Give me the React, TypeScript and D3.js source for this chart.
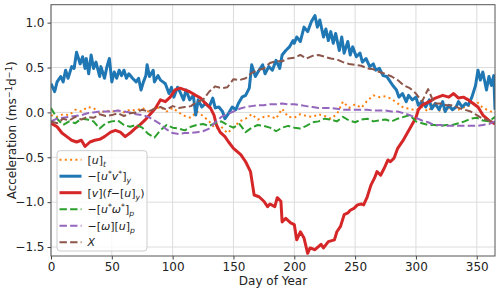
import React, { useEffect, useRef } from 'react';
import * as d3 from 'd3';

// shared 5-day sampling for the smoother terms
const days = [
  0, 5, 10, 15, 20, 25, 30, 35, 40, 45, 50, 55, 60, 65, 70, 75, 80, 85, 90, 95,
  100, 105, 110, 115, 120, 125, 130, 135, 140, 145, 150, 155, 160, 165, 170, 175,
  180, 185, 190, 195, 200, 205, 210, 215, 220, 225, 230, 235, 240, 245, 250, 255,
  260, 265, 270, 275, 280, 285, 290, 295, 300, 305, 310, 315, 320, 325, 330, 335,
  340, 345, 350, 355, 360, 365
];

// [u]_t
const tendency = [
  -0.03, -0.05, -0.02, -0.03, 0.03, 0.01, 0.06, 0.05, -0.01, 0.02, 0.01, 0.02, 0.0, 0.03, 0.02, 0.05, 0.01, 0.04, 0.06, 0.01,
  0.05, 0.0, -0.04, -0.06, 0.01, -0.04, -0.1, -0.18, -0.16, -0.23, -0.17, -0.1, -0.07, -0.02, -0.08, -0.05,
  -0.04, -0.07, 0.04, -0.05, -0.06, -0.02, -0.04, -0.05, -0.02, -0.04, -0.07, -0.02, 0.12, 0.05, 0.09, 0.05,
  0.13, 0.19, 0.17, 0.18, 0.15, 0.1, 0.05, 0.04, 0.02, 0.06, 0.01, 0.1, 0.01, 0.05, 0.04, 0.03,
  0.06, 0.08, 0.12, 0.05, 0.02, -0.01
];

// -[u*v*]_y, read at its own (denser) days
const eddyDays = [
  0, 3, 5, 8, 10, 12, 14, 17, 19, 21, 24, 26, 28, 29, 31, 33, 35, 37, 40, 41, 44, 46, 48, 50, 52, 54, 56, 58, 60,
  62, 64, 67, 70, 72, 74, 76, 78, 79, 81, 84, 85, 88, 90, 92, 94, 97, 99, 101, 104, 106, 109, 111, 114, 117, 119,
  121, 124, 127, 130, 133, 135, 138, 141, 143, 146, 149, 152, 154, 157, 160, 163, 165, 168, 171, 174, 176, 179,
  182, 185, 188, 190, 193, 196, 199, 200, 202, 205, 208, 211, 214, 217, 219, 221, 224, 226, 228, 230, 232, 234,
  237, 239, 241, 244, 246, 248, 251, 254, 256, 259, 262, 265, 267, 270, 273, 276, 279, 281, 284, 286, 289, 292,
  294, 297, 300, 302, 305, 308, 311, 313, 316, 319, 322, 324, 327, 330, 333, 335, 338, 341, 343, 346, 349, 351,
  353, 355, 358, 360, 362, 364, 365
];
const eddyFlux = [
  0.32, 0.23, 0.34, 0.4, 0.34, 0.47, 0.38, 0.51, 0.49, 0.67, 0.54, 0.62, 0.49, 0.6, 0.43, 0.64, 0.49, 0.56, 0.4, 0.51, 0.38, 0.51, 0.6, 0.34, 0.45, 0.38, 0.47, 0.41, 0.47,
  0.38, 0.43, 0.38, 0.34, 0.38, 0.25, 0.34, 0.41, 0.53, 0.4, 0.47, 0.34, 0.41, 0.36, 0.34, 0.32, 0.21, 0.28, 0.17, 0.28, 0.23, 0.14, 0.25, 0.14, 0.19, -0.03,
  0.14, 0.06, 0.1, 0.06, 0.16, 0.05, 0.06, 0.01, -0.07, -0.01, 0.06, 0.03, 0.1, 0.17, 0.19, 0.27, 0.53, 0.4, 0.47, 0.53, 0.43, 0.51,
  0.47, 0.58, 0.49, 0.64, 0.69, 0.73, 0.8, 0.77, 0.84, 0.79, 0.95, 0.9, 1.01, 1.08, 0.95, 1.03, 0.84, 0.93, 0.8, 0.9, 0.77, 0.88,
  0.69, 0.84, 0.66, 0.79, 0.64, 0.73, 0.62, 0.66, 0.56, 0.6, 0.51, 0.54, 0.47, 0.49, 0.41, 0.4, 0.34, 0.3, 0.25, 0.17, 0.21, 0.12,
  0.19, 0.14, 0.17, 0.08, 0.12, 0.06, 0.14, 0.04, 0.1, 0.03, 0.12, 0.01, 0.08, 0.03, 0.06, 0.12, 0.06, 0.1, 0.08, 0.17, 0.3, 0.47,
  0.36, 0.45, 0.25, 0.4, 0.3, 0.41, 0.03
];

// [v](f-[u]_y), read at its own days
const coriolisDays = [
  0, 5, 9, 13, 17, 21, 25, 28, 32, 36, 40, 44, 49, 53, 57, 61, 65, 69, 73, 77, 81, 86, 90, 94, 98, 102, 106, 110,
  114, 119, 123, 127, 131, 134, 136, 139, 143, 146, 150, 156, 160, 164, 167, 171, 175, 178, 180, 184, 186, 189,
  190, 193, 197, 200, 202, 205, 208, 211, 213, 217, 222, 224, 228, 233, 235, 238, 241, 244, 246, 249, 252, 255,
  257, 260, 263, 266, 268, 271, 274, 277, 279, 282, 285, 290, 295, 300, 302, 305, 311, 316, 322, 327, 331, 335,
  339, 343, 347, 351, 355, 360, 365
];
const coriolis = [
  -0.12, -0.16, -0.23, -0.27, -0.31, -0.33, -0.31, -0.38, -0.33, -0.31, -0.3, -0.27, -0.22, -0.2, -0.22, -0.27, -0.23, -0.18, -0.14, -0.09, -0.03, 0.05, 0.14, 0.12, 0.17, 0.25, 0.27, 0.25,
  0.23, 0.19, 0.16, 0.1, 0.05, -0.03, -0.14, -0.22, -0.27, -0.33, -0.4, -0.47, -0.55, -0.66, -0.92, -0.94, -0.99, -1.05, -1.02, -1.05, -0.95, -0.99,
  -1.22, -1.18, -1.23, -1.25, -1.42, -1.33, -1.4, -1.57, -1.51, -1.53, -1.47, -1.51, -1.44, -1.42, -1.33, -1.27, -1.14, -1.12, -1.09, -1.07, -1.03, -1.02,
  -1.03, -0.94, -0.81, -0.73, -0.66, -0.7, -0.62, -0.53, -0.55, -0.51, -0.4, -0.3, -0.18, -0.06, 0.03, 0.08, 0.12, 0.16, 0.19, 0.17, 0.21, 0.16,
  0.17, 0.14, 0.1, 0.06, -0.03, -0.09, -0.13
];

// -[u*w*]_p
const vertEddy = [
  0.05, -0.07, -0.14, -0.1, -0.12, -0.07, -0.08, -0.1, -0.18, -0.12, -0.1, -0.09, -0.14, -0.16, -0.14, -0.17, -0.24, -0.28, -0.2, -0.14,
  -0.17, -0.18, -0.2, -0.16, -0.14, -0.13, -0.15, -0.12, -0.1, -0.14, -0.17, -0.13, -0.22, -0.17, -0.14, -0.15,
  -0.17, -0.21, -0.17, -0.15, -0.17, -0.18, -0.15, -0.11, -0.1, -0.07, -0.08, -0.1, -0.05, -0.09, -0.11, -0.08,
  -0.07, -0.1, -0.09, -0.08, -0.1, -0.07, -0.05, -0.03, -0.1, -0.12, -0.14, -0.14, -0.15, -0.14, -0.14, -0.12,
  -0.1, -0.07, -0.06, -0.09, -0.1, -0.05
];

// -[w][u]_p
const vertMean = [
  -0.1, -0.07, -0.06, -0.05, -0.04, -0.03, -0.01, 0.0, 0.01, 0.01, 0.01, 0.02, 0.01, 0.0, -0.02, -0.03, -0.05, -0.09, -0.13, -0.19,
  -0.23, -0.24, -0.23, -0.23, -0.22, -0.21, -0.18, -0.11, -0.05, -0.02, 0.01, 0.04, 0.06, 0.07, 0.08, 0.08,
  0.09, 0.09, 0.1, 0.09, 0.09, 0.08, 0.07, 0.06, 0.05, 0.05, 0.05, 0.04, 0.03, 0.03, 0.03, 0.03,
  0.03, 0.02, 0.02, 0.02, 0.01, 0.01, -0.01, -0.03, -0.06, -0.09, -0.11, -0.14, -0.14, -0.15, -0.15, -0.15,
  -0.15, -0.15, -0.15, -0.14, -0.13, -0.1
];

// X
const residual = [
  -0.1, -0.12, -0.07, -0.09, -0.05, -0.08, -0.05, -0.06, -0.02, -0.04, -0.03, -0.01, -0.04, -0.01, 0.0, 0.03, 0.01, 0.04, 0.06, 0.03,
  0.07, 0.05, 0.06, 0.07, 0.12, 0.14, 0.23, 0.29, 0.27, 0.28, 0.37, 0.36, 0.38, 0.44, 0.47, 0.49,
  0.55, 0.57, 0.57, 0.6, 0.61, 0.64, 0.6, 0.63, 0.64, 0.62, 0.6, 0.59, 0.56, 0.54, 0.53, 0.52,
  0.49, 0.48, 0.45, 0.43, 0.4, 0.36, 0.3, 0.27, 0.21, 0.12, 0.26, 0.1, 0.1, 0.08, 0.08, 0.05,
  0.03, 0.01, -0.03, -0.07, -0.09, -0.12
];

const xTicks = [0, 50, 100, 150, 200, 250, 300, 350];
const yTicks = [-1.5, -1.0, -0.5, 0.0, 0.5, 1.0];

type Part = { t: string; i?: boolean; sub?: boolean; sup?: boolean };

const labels: Part[][] = [
  [{ t: '[' }, { t: 'u', i: true }, { t: ']' }, { t: 't', i: true, sub: true }],
  [{ t: '\u2212[' }, { t: 'u', i: true }, { t: '*', sup: true }, { t: 'v', i: true }, { t: '*', sup: true }, { t: ']' }, { t: 'y', i: true, sub: true }],
  [{ t: '[' }, { t: 'v', i: true }, { t: '](' }, { t: 'f', i: true }, { t: '\u2212[' }, { t: 'u', i: true }, { t: ']' }, { t: 'y', i: true, sub: true }, { t: ')' }],
  [{ t: '\u2212[' }, { t: 'u', i: true }, { t: '*', sup: true }, { t: '\u03c9', i: true }, { t: '*', sup: true }, { t: ']' }, { t: 'p', i: true, sub: true }],
  [{ t: '\u2212[' }, { t: '\u03c9', i: true }, { t: '][' }, { t: 'u', i: true }, { t: ']' }, { t: 'p', i: true, sub: true }],
  [{ t: 'X', i: true }]
];

const series = [
  { days: days, values: tendency, color: '#ff7f0e', width: 2, dash: '2,3.3' },
  { days: eddyDays, values: eddyFlux, color: '#1f77b4', width: 3, dash: null },
  { days: coriolisDays, values: coriolis, color: '#d62728', width: 3, dash: null },
  { days: days, values: vertEddy, color: '#2ca02c', width: 2, dash: '7.4,3.2' },
  { days: days, values: vertMean, color: '#9467bd', width: 2, dash: '7.4,3.2' },
  { days: days, values: residual, color: '#8c564b', width: 2, dash: '7.4,3.2' }
];

const FONT = 'DejaVu Sans, sans-serif';

function addRich(sel: any, parts: Part[], size: number) {
  let shift = 0;
  parts.forEach(p => {
    const target = p.sub ? 3 : p.sup ? -4 : 0;
    const ts = sel.append('tspan').text(p.t).attr('dy', target - shift);
    shift = target;
    if (p.i) ts.attr('font-style', 'italic');
    if (p.sub || p.sup) ts.attr('font-size', size * 0.7);
  });
}

export default function App() {
  const ref = useRef<SVGSVGElement>(null);

  useEffect(() => {
    const svg = d3.select(ref.current);
    svg.selectAll('*').remove();

    const left = 51, right = 495, top = 4.7, bottom = 256;

    const x = d3.scaleLinear().domain([0, 365]).range([left, right]);
    const y = d3.scaleLinear().domain([-1.6, 1.2]).range([bottom, top]);

    // grid
    const grid = svg.append('g');
    xTicks.forEach(t => {
      grid.append('line').attr('x1', x(t)).attr('x2', x(t)).attr('y1', top).attr('y2', bottom)
        .attr('stroke', '#dcdcdc').attr('stroke-width', 1);
    });
    yTicks.forEach(t => {
      grid.append('line').attr('x1', left).attr('x2', right).attr('y1', y(t)).attr('y2', y(t))
        .attr('stroke', '#dcdcdc').attr('stroke-width', 1);
    });

    // lines
    const plot = svg.append('g');
    plot.append('clipPath').attr('id', 'clip').append('rect')
      .attr('x', left).attr('y', top).attr('width', right - left).attr('height', bottom - top);
    series.forEach(s => {
      const line = d3.line<number>().x((_, i) => x(s.days[i])).y(d => y(d));
      const p = plot.append('path')
        .attr('d', line(s.values))
        .attr('fill', 'none')
        .attr('stroke', s.color)
        .attr('stroke-width', s.width)
        .attr('stroke-linejoin', 'round')
        .attr('clip-path', 'url(#clip)');
      if (s.dash) p.attr('stroke-dasharray', s.dash);
    });

    // axes
    const xAxis = svg.append('g').attr('transform', `translate(0,${bottom})`)
      .call(d3.axisBottom(x).tickValues(xTicks).tickSize(3.5).tickPadding(3).tickFormat(d3.format('d')));
    const yAxis = svg.append('g').attr('transform', `translate(${left},0)`)
      .call(d3.axisLeft(y).tickValues(yTicks).tickSize(3.5).tickPadding(3).tickFormat(d => d3.format('.1f')(d as number).replace('-', '\u2212')));
    [xAxis, yAxis].forEach(a => {
      a.select('.domain').remove();
      a.selectAll('line').attr('stroke', '#444');
      a.selectAll('text').attr('fill', '#222').attr('font-size', 12).attr('font-family', FONT);
    });

    svg.append('rect').attr('x', left).attr('y', top).attr('width', right - left).attr('height', bottom - top)
      .attr('fill', 'none').attr('stroke', '#555').attr('stroke-width', 1);

    // axis labels
    svg.append('text').attr('x', (left + right) / 2).attr('y', 285).attr('text-anchor', 'middle')
      .attr('font-family', FONT).attr('font-size', 12).attr('fill', '#222').text('Day of Year');
    const yl = svg.append('text')
      .attr('transform', `translate(16,${(top + bottom) / 2}) rotate(-90)`)
      .attr('text-anchor', 'middle').attr('font-family', FONT).attr('font-size', 12).attr('fill', '#222');
    addRich(yl, [{ t: 'Acceleration (ms' }, { t: '\u22121', sup: true }, { t: 'd' }, { t: '\u22121', sup: true }, { t: ')' }], 12);

    // legend
    const lg = svg.append('g');
    lg.append('rect').attr('x', 57).attr('y', 150.7).attr('width', 90).attr('height', 100.3).attr('rx', 3)
      .attr('fill', 'white').attr('fill-opacity', 0.8).attr('stroke', '#cccccc');
    series.forEach((s, i) => {
      const cy = 159.7 + i * 16.5;
      const l = lg.append('line').attr('x1', 59.5).attr('x2', 81.5).attr('y1', cy).attr('y2', cy)
        .attr('stroke', s.color).attr('stroke-width', s.width);
      if (s.dash) l.attr('stroke-dasharray', s.dash);
      const t = lg.append('text').attr('x', 87.5).attr('y', cy + 4)
        .attr('font-family', FONT).attr('font-size', 11).attr('fill', '#222');
      addRich(t, labels[i], 11);
    });
  }, []);

  return (
    <svg ref={ref} width={500} height={290}
      style={{ position: 'absolute', left: 0, top: 0, background: 'white' }} />
  );
}
